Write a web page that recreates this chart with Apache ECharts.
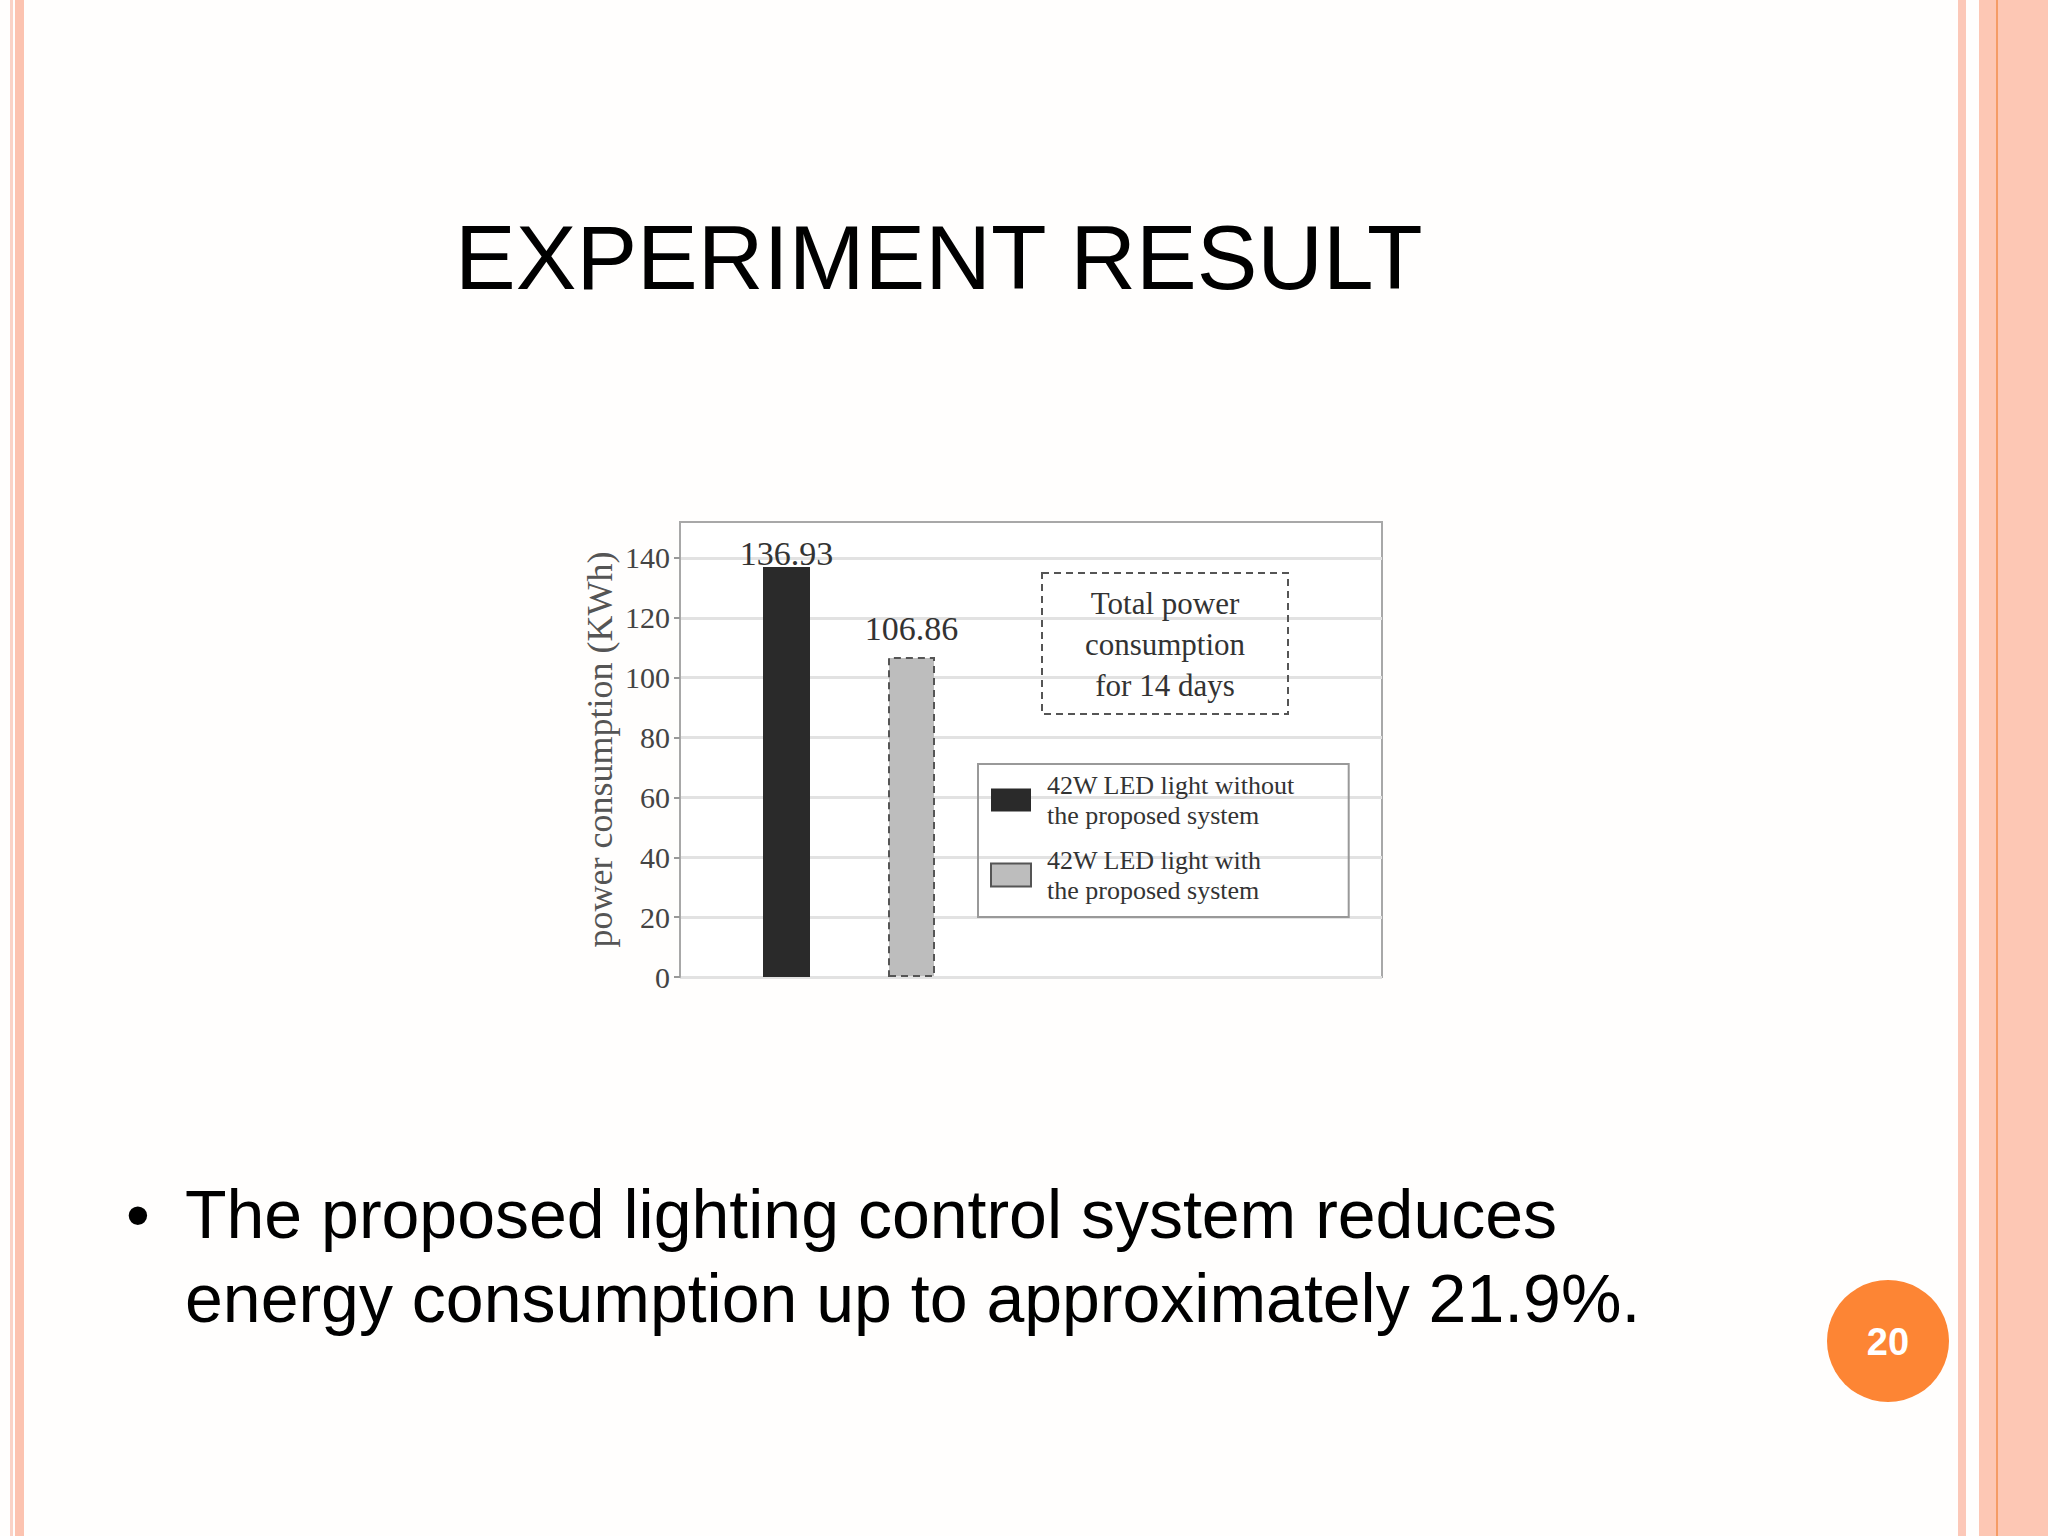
<!DOCTYPE html>
<html>
<head>
<meta charset="utf-8">
<script src="https://cdn.jsdelivr.net/npm/echarts@6/dist/echarts.min.js"></script>
<style>
  html, body { margin: 0; padding: 0; background: #fffefd; }
  #chart { width: 2048px; height: 1536px; }
</style>
</head>
<body>
<div id="chart"></div>
<script>
// chart data
const categories = [
  '42W LED light without\nthe proposed system',
  '42W LED light with\nthe proposed system'
];
const values = [136.93, 106.86];
const barSlots = [1, 2];           // where each bar sits on the hidden x scale
const yTickLabels = ['0', '20', '40', '60', '80', '100', '120', '140'];
const yAxisName = 'power consumption (KWh)';
const noteLines = ['Total power', 'consumption', 'for 14 days'];

const serif = '"Liberation Serif", "DejaVu Serif", serif';
const sans = '"Liberation Sans", Arial, sans-serif';

const barStyles = [
  { color: '#2a2a2a' },
  { color: '#bdbdbd', borderColor: '#555', borderWidth: 2, borderType: [7, 5] }
];
const labelDistance = [-3, 12];

const chart = echarts.init(document.getElementById('chart'), null, { renderer: 'svg' });

const tickValues = yTickLabels.map(Number);

const option = {
  backgroundColor: '#fffefd',
  animation: false,
  grid: {
    left: 680, top: 522, width: 702, height: 455,
    show: true, borderColor: '#a8a8a8', borderWidth: 2, backgroundColor: '#ffffff'
  },
  xAxis: {
    type: 'value', min: 0.148, max: 5.764, show: false
  },
  yAxis: {
    type: 'value', min: 0, max: 152, interval: 20,
    name: yAxisName,
    nameLocation: 'middle',
    nameGap: 62,
    nameTextStyle: { fontFamily: serif, fontSize: 36, color: '#555' },
    axisLine: { show: true, lineStyle: { color: '#a8a8a8', width: 2 } },
    axisTick: { show: true, length: 6, customValues: tickValues, lineStyle: { color: '#999', width: 2 } },
    axisLabel: {
      margin: 10, fontFamily: serif, fontSize: 30, color: '#444',
      customValues: tickValues,
      formatter: v => (yTickLabels.includes(String(v)) ? String(v) : '')
    },
    splitLine: { show: true, lineStyle: { color: '#e2e2e2', width: 3 } }
  },
  legend: {
    orient: 'vertical',
    left: 978, top: 764,
    icon: 'rect',
    itemWidth: 40, itemHeight: 23, itemGap: 15,
    padding: [6, 54, 12, 12],
    borderColor: '#999', borderWidth: 2,
    textStyle: { fontFamily: serif, fontSize: 26, lineHeight: 30, color: '#333', padding: [0, 0, 0, 11] },
    data: categories
  },
  series: categories.map((name, i) => ({
    name: name,
    type: 'bar',
    barWidth: 47,
    barGap: '-100%',
    data: [[barSlots[i], values[i]]],
    itemStyle: barStyles[i],
    emphasis: { disabled: true },
    label: {
      show: true, position: 'top', distance: labelDistance[i],
      fontFamily: serif, fontSize: 34, color: '#333',
      formatter: p => p.value[1].toFixed(2)
    }
  })),
  graphic: [
    // slide borders
    { type: 'rect', shape: { x: 10, y: 0, width: 3, height: 1536 }, style: { fill: '#fad2c6' } },
    { type: 'rect', shape: { x: 15, y: 0, width: 9, height: 1536 }, style: { fill: '#fcc3b0' } },
    { type: 'rect', shape: { x: 1958, y: 0, width: 8, height: 1536 }, style: { fill: '#fcc8b8' } },
    { type: 'rect', shape: { x: 1979, y: 0, width: 69, height: 1536 }, style: { fill: '#fdc7b4' } },
    { type: 'rect', shape: { x: 1996, y: 0, width: 2, height: 1536 }, style: { fill: '#f59c66' } },
    // slide title
    {
      type: 'text', left: 455, top: 212,
      style: { text: 'EXPERIMENT RESULT', font: '91px ' + sans, fill: '#000' }
    },
    // bullet text
    {
      type: 'text', x: 126, y: 1214,
      style: { text: '\u2022', font: '68px ' + sans, fill: '#000', verticalAlign: 'middle' }
    },
    {
      type: 'text', x: 185, y: 1214,
      style: { text: 'The proposed lighting control system reduces', font: '68px ' + sans, fill: '#000', verticalAlign: 'middle' }
    },
    {
      type: 'text', x: 185, y: 1298,
      style: { text: 'energy consumption up to approximately 21.9%.', font: '68px ' + sans, fill: '#000', verticalAlign: 'middle' }
    },
    // page number
    { type: 'circle', shape: { cx: 1888, cy: 1341, r: 61 }, style: { fill: '#fd8534' } },
    {
      type: 'text', x: 1888, y: 1342,
      style: { text: '20', font: 'bold 38px ' + sans, fill: '#fff', align: 'center', verticalAlign: 'middle' }
    },
    // note box inside the plot
    {
      type: 'rect', z: 10,
      shape: { x: 1042, y: 573, width: 246, height: 141 },
      style: { fill: 'none', stroke: '#555', lineWidth: 2, lineDash: [7, 5] }
    },
    {
      type: 'text', z: 10, x: 1165, y: 644,
      style: {
        text: noteLines.join('\n'), font: '31px ' + serif, lineHeight: 41,
        fill: '#333', align: 'center', verticalAlign: 'middle'
      }
    }
  ]
};

chart.setOption(option);
</script>
</body>
</html>
